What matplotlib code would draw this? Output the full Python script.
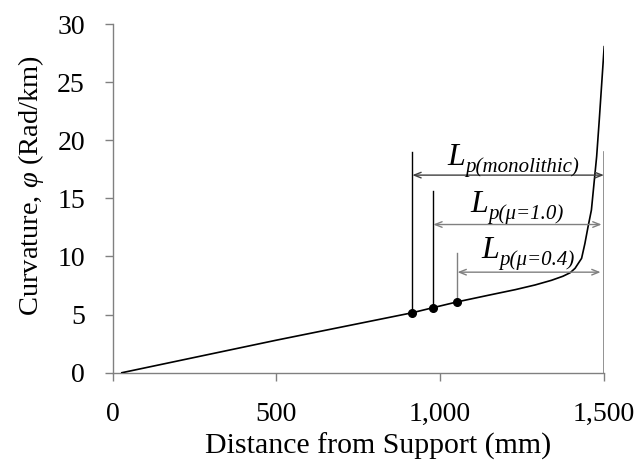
import numpy as np
import matplotlib
matplotlib.use('Agg')
import matplotlib.pyplot as plt
from matplotlib.ticker import StrMethodFormatter

plt.rcParams['font.family'] = ['Liberation Serif', 'DejaVu Serif']
plt.rcParams['mathtext.fontset'] = 'custom'
plt.rcParams['mathtext.rm'] = 'Liberation Serif'
plt.rcParams['mathtext.it'] = 'Liberation Serif:italic'

# Curvature profile
distance = [28, 500, 915, 979, 1053, 1150, 1230, 1290, 1340, 1375, 1397, 1412, 1432, 1442, 1452, 1462, 1478, 1486, 1501]
curvature = [0, 2.8, 5.16, 5.6, 6.1, 6.68, 7.15, 7.55, 7.95, 8.3, 8.6, 8.98, 9.84, 11.1, 12.6, 14.0, 18.6, 21.75, 28.05]

# Plastic hinge start points (dots) and the support end
hinge_x = [915, 979, 1053]
hinge_y = [5.16, 5.6, 6.1]
hinge_top = [19.0, 15.6, 10.3]
hinge_color = ['black', 'black', '#808080']
arrow_y = [17.0, 12.75, 8.65]
arrow_end = [1500, 1493, 1490]
arrow_color = ['#404040', '#808080', '#808080']
end_x = 1500
end_top = 19.0

# Hinge length labels: "L" plus an italic subscript
label_subs = ['p(monolithic)', 'p(\u03bc=1.0)', 'p(\u03bc=0.4)']
label_x = [1076, 1146, 1180]      # where "L" ends and the subscript starts
label_base = [17.87, 13.86, 9.85]  # baseline of "L"

fig = plt.figure(figsize=(6.39, 4.69), dpi=100)
ax = fig.add_axes([0.1764, 0.2053, 0.945 - 0.1764, 0.9488 - 0.2053])

ax.plot(distance, curvature, color='black', lw=1.2, zorder=3)
ax.plot(hinge_x, hinge_y, 'o', color='black', markersize=5.5, zorder=4)

# Vertical reference lines
for x, y0, y1, c in zip(hinge_x, hinge_y, hinge_top, hinge_color):
    ax.plot([x, x], [y0, y1], color=c, lw=1.0, zorder=2)
ax.plot([end_x, end_x], [0, end_top], color='#808080', lw=1.2, zorder=2)

# Hinge length arrows
for x0, x1, y, c in zip(hinge_x, arrow_end, arrow_y, arrow_color):
    ax.annotate('', xy=(x1, y), xytext=(x0, y),
                arrowprops=dict(arrowstyle='<->,head_length=0.5,head_width=0.2',
                                color=c, lw=1.0, shrinkA=0, shrinkB=0))

for sub, x, y in zip(label_subs, label_x, label_base):
    ax.text(x, y, 'L', fontsize=23, fontstyle='italic', ha='right', va='baseline')
    ax.annotate(sub, xy=(x, y), xytext=(0, -5), textcoords='offset points',
                fontsize=15, fontstyle='italic', ha='left', va='baseline')

ax.set_xlim(0, 1500)
ax.set_ylim(0, 30)
ax.set_xticks([0, 500, 1000, 1500])
ax.set_yticks(np.arange(0, 31, 5))
ax.xaxis.set_major_formatter(StrMethodFormatter('{x:,.0f}'))

for side in ['top', 'right']:
    ax.spines[side].set_visible(False)
for side in ['left', 'bottom']:
    ax.spines[side].set_color('#808080')
    ax.spines[side].set_linewidth(1.0)
ax.tick_params(direction='out', length=6, width=1.0, color='#808080',
               labelsize=20)
ax.tick_params(axis='x', pad=15)
ax.tick_params(axis='y', pad=14)

ax.set_xlabel('Distance from Support (mm)', fontsize=21.5, labelpad=4, x=0.54)
ax.set_ylabel(r'Curvature, $\varphi$ (Rad/km)', fontsize=20.5, labelpad=8, y=0.537)

fig.savefig('out.png', dpi=100)
